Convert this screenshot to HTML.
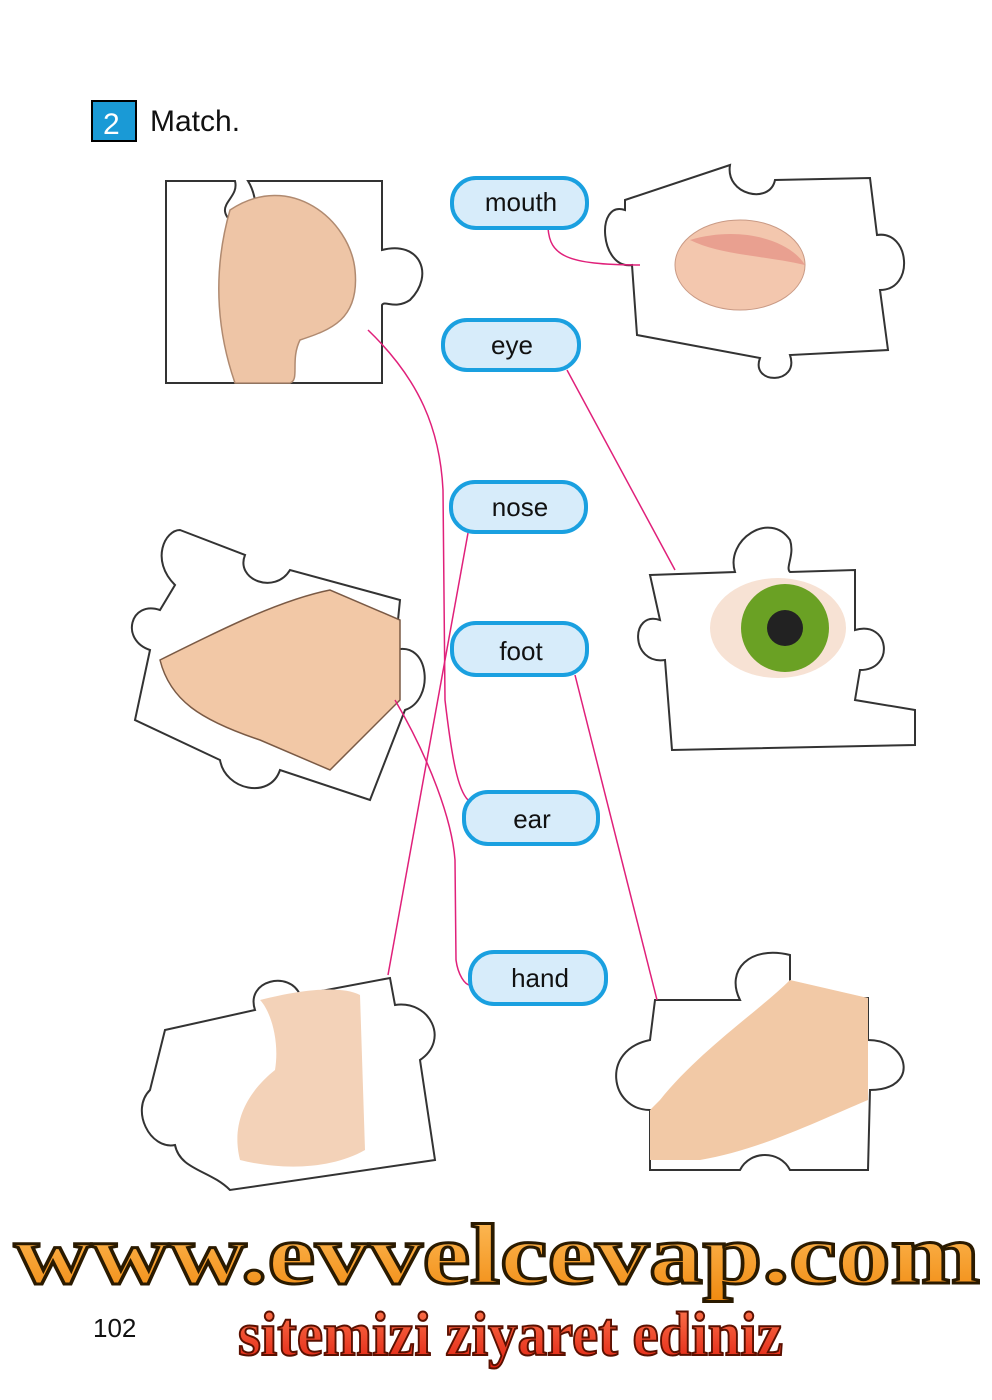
<!DOCTYPE html>
<html><head><meta charset="utf-8"><style>
html,body{margin:0;padding:0;background:#fff;}
svg{display:block;}
</style></head><body>
<svg width="992" height="1400" viewBox="0 0 992 1400" xmlns="http://www.w3.org/2000/svg">
<defs>
<linearGradient id="og" x1="0" y1="0" x2="0" y2="1"><stop offset="0" stop-color="#ffc060"/><stop offset="1" stop-color="#f08a10"/></linearGradient>
<linearGradient id="rg" x1="0" y1="0" x2="0" y2="1"><stop offset="0" stop-color="#ff7a50"/><stop offset="1" stop-color="#e02010"/></linearGradient>
</defs>
<!-- header -->
<rect x="92" y="101" width="44" height="40" fill="#1a9ad6" stroke="#000" stroke-width="2"/>
<text x="103" y="134" font-family="Liberation Sans,sans-serif" font-size="30" fill="#fff">2</text>
<text x="150" y="131" font-family="Liberation Sans,sans-serif" font-size="30" fill="#111">Match.</text>

<g fill="#fff" stroke="#333" stroke-width="2">
<!-- ear piece -->
<path d="M166 181 L235 181 C240 200 210 205 235 225 C260 240 260 200 248 181 L382 181 L382 250 C420 240 435 275 410 300 C395 310 385 300 382 305 L382 383 L166 383 Z"/>
<!-- mouth piece -->
<path d="M625 200 L730 165 C725 195 770 205 775 180 L870 178 L877 235 C910 230 915 290 880 290 L888 350 L790 355 C800 385 750 385 760 358 L637 335 L632 265 C600 270 595 200 625 210 Z"/>
<!-- hand piece -->
<path d="M180 530 L245 555 C235 580 275 595 290 570 L400 600 L395 650 C430 640 435 700 405 710 L370 800 L280 770 C270 800 225 790 220 760 L135 720 L150 650 C120 640 130 600 160 610 L175 585 C150 560 165 530 180 530 Z"/>
<!-- eye piece -->
<path d="M650 575 L735 572 C725 540 770 510 790 540 C795 555 785 568 790 572 L855 570 L855 630 C890 620 895 670 860 670 L855 700 L915 710 L915 745 L672 750 L665 660 C630 665 630 610 660 620 Z"/>
<!-- nose piece -->
<path d="M165 1030 L255 1010 C245 980 290 970 300 995 L390 978 L395 1005 C430 1000 450 1040 420 1060 L435 1160 L230 1190 C210 1170 180 1170 175 1145 C150 1150 130 1110 150 1090 Z"/>
<!-- foot piece -->
<path d="M655 1000 L740 1000 C725 970 750 945 790 955 L790 1000 L868 998 L868 1040 C910 1040 920 1090 870 1090 L868 1170 L790 1170 C780 1150 750 1150 740 1170 L650 1170 L650 1110 C610 1110 600 1050 650 1040 Z"/>
</g>
<!-- images (approx) -->
<path d="M230 210 C290 170 350 220 355 270 C360 320 330 330 300 340 C290 360 300 380 290 383 L235 383 C220 340 210 280 230 210 Z" fill="#eec5a6" stroke="#b08a70" stroke-width="1.5"/>
<ellipse cx="740" cy="265" rx="65" ry="45" fill="#f3c7ae" stroke="#c99a85"/>
<path d="M690 240 C740 225 790 240 805 265 C760 255 720 255 690 240Z" fill="#e9a090"/>
<path d="M160 660 C220 630 280 600 330 590 L400 620 L400 700 L330 770 L260 740 C200 720 170 700 160 660Z" fill="#f2c8a6" stroke="#7a5a45" stroke-width="1.5"/>
<ellipse cx="778" cy="628" rx="68" ry="50" fill="#f7e2d4"/>
<circle cx="785" cy="628" r="44" fill="#6aa124"/><circle cx="785" cy="628" r="18" fill="#222"/>
<path d="M260 1000 C300 990 340 985 360 995 L365 1150 C330 1170 280 1170 240 1160 C230 1120 250 1090 275 1070 C280 1040 270 1010 260 1000Z" fill="#f3d2b8"/>
<path d="M660 1100 C700 1050 760 1010 790 980 L868 998 L868 1100 C820 1120 760 1150 700 1160 L650 1160 L650 1110Z" fill="#f2c9a6"/>

<!-- magenta lines -->
<g fill="none" stroke="#e0207a" stroke-width="1.5">
<path d="M548 228 C550 255 565 265 640 265"/>
<path d="M567 370 L675 570"/>
<path d="M368 330 C420 380 440 430 443 490 L445 700 C452 760 458 790 468 800 L485 800"/>
<path d="M468 533 L388 975"/>
<path d="M395 700 C430 760 452 820 455 860 L456 960 C458 975 465 985 470 985"/>
<path d="M575 675 L657 1000"/>
</g>

<!-- cloud labels -->
<g fill="#d7ecfa" stroke="#1aa0e0" stroke-width="4" font-family="Liberation Sans,sans-serif" font-size="25">
<rect x="452" y="178" width="135" height="50" rx="24"/>
<rect x="443" y="320" width="136" height="50" rx="24"/>
<rect x="451" y="482" width="135" height="50" rx="24"/>
<rect x="452" y="623" width="135" height="52" rx="24"/>
<rect x="464" y="792" width="134" height="52" rx="24"/>
<rect x="470" y="952" width="136" height="52" rx="24"/>
</g>
<g fill="#111" font-family="Liberation Sans,sans-serif" font-size="26" text-anchor="middle">
<text x="521" y="211">mouth</text>
<text x="512" y="354">eye</text>
<text x="520" y="516">nose</text>
<text x="521" y="660">foot</text>
<text x="532" y="828">ear</text>
<text x="540" y="987">hand</text>
</g>

<!-- watermark -->
<text x="14" y="1283" font-family="Liberation Serif,serif" font-weight="bold" font-size="86" fill="url(#og)" stroke="#2a1a00" stroke-width="3" textLength="966" lengthAdjust="spacingAndGlyphs">www.evvelcevap.com</text>
<text x="93" y="1337" font-family="Liberation Sans,sans-serif" font-size="26" fill="#111">102</text>
<text x="238" y="1355" font-family="Liberation Serif,serif" font-weight="bold" font-size="62" fill="url(#rg)" stroke="#5a1000" stroke-width="2" textLength="545" lengthAdjust="spacingAndGlyphs">sitemizi ziyaret ediniz</text>
</svg>
</body></html>
